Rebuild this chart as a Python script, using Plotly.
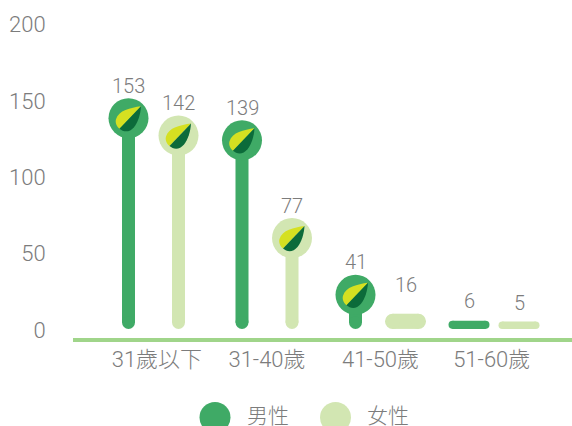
import plotly.graph_objects as go

categories = ["31歲以下", "31-40歲", "41-50歲", "51-60歲"]
male = [153, 139, 41, 6]
female = [142, 77, 16, 5]
series_names = ["男性", "女性"]
y_ticks = [0, 50, 100, 150, 200]
category_label_nudge = [0.03, 0.0, 0.0, -0.02]

MALE_C, FEMALE_C = "#3faa66", "#d2e6b2"
AXIS_C, TEXT_C = "#a0d58a", "#7c7c7c"
FONT = "Roboto, 'Noto Sans CJK TC', sans-serif"
WEIGHT = 300

W, H = 572, 426
L, R, T, B = 73, 0, 24, 88          # plot box: y from 24 to 338
PH = H - T - B
PX_PER_UNIT = 1.577                 # marks axis
TICK_PX_PER_UNIT = 1.527            # printed tick labels
PX_PER_CAT = 113.5
OFFSET = 25 / PX_PER_CAT
BASE = 10.6 / PX_PER_UNIT           # bars float above the axis line
STEM, HEAD = 13, 40
BAR_W = 41

fig = go.Figure()
shapes, annotations = [], []
LEAF_L = "M 12.5 12 C 2 10.5 -10 8 -12.5 -1 C -13.5 -4 -12 -8 -9 -10.5 Z"
LEAF_D = "M 12.5 12 C 12 4 9.5 -4 5.5 -9 C 1 -14.5 -5 -14 -9 -10.5 Z"


def marks(values, sign, color, name):
    for i, v in enumerate(values):
        cx = i + sign * OFFSET
        if v >= 20:
            head_y = v - HEAD / 2 / PX_PER_UNIT
            fig.add_trace(go.Scatter(
                x=[cx, cx], y=[BASE + STEM / 2 / PX_PER_UNIT, head_y], yaxis="y2",
                mode="lines+markers", line=dict(color=color, width=STEM),
                marker=dict(color=color, size=[STEM, HEAD], opacity=1, line=dict(width=0)),
                showlegend=False, name=name, hoverinfo="skip"))
            for path, col in ((LEAF_L, "#d5e021"), (LEAF_D, "#0c6b3a")):
                shapes.append(dict(type="path", path=path, xref="x", yref="y2",
                                   xsizemode="pixel", ysizemode="pixel",
                                   xanchor=cx, yanchor=head_y,
                                   fillcolor=col, line=dict(width=0)))
            shift = 12.5
        else:
            h = 4 + 0.7 * v
            dx = (BAR_W - h) / 2 / PX_PER_CAT
            yc = BASE + h / 2 / PX_PER_UNIT
            fig.add_trace(go.Scatter(
                x=[cx - dx, cx + dx], y=[yc, yc], yaxis="y2",
                mode="lines+markers", line=dict(color=color, width=h),
                marker=dict(color=color, size=h, opacity=1, line=dict(width=0)),
                showlegend=False, name=name, hoverinfo="skip"))
            shift = 29
        annotations.append(dict(x=cx, y=v, xref="x", yref="y2", text=str(v),
                                showarrow=False, yanchor="middle", yshift=shift,
                                font=dict(size=20, color=TEXT_C, family=FONT, weight=WEIGHT)))


marks(male, -1, MALE_C, series_names[0])
marks(female, 1, FEMALE_C, series_names[1])

# legend drawn at its reference size
for cx, tx, col, name in ((215, 268, MALE_C, series_names[0]),
                          (335.5, 388, FEMALE_C, series_names[1])):
    shapes.append(dict(type="circle", xref="paper", yref="paper",
                       x0=(cx - 15.5 - L) / (W - L - R), x1=(cx + 15.5 - L) / (W - L - R),
                       y0=(H - B - 433) / PH, y1=(H - B - 402) / PH,
                       fillcolor=col, line=dict(width=0)))
    annotations.append(dict(x=(tx - L) / (W - L - R), y=(H - B - 416) / PH,
                            xref="paper", yref="paper", text=name, showarrow=False,
                            yanchor="middle",
                            font=dict(size=21, color=TEXT_C, family=FONT, weight=WEIGHT)))

bottom_px = H - B
fig.update_layout(
    width=W, height=H, margin=dict(l=L, r=R, t=T, b=B, pad=0), autosize=False,
    paper_bgcolor="white", plot_bgcolor="white", showlegend=False,
    shapes=shapes, annotations=annotations,
    xaxis=dict(range=[(L - 153.5) / PX_PER_CAT, (572 - 153.5) / PX_PER_CAT],
               tickvals=[i + n for i, n in enumerate(category_label_nudge)],
               ticktext=categories, showgrid=False,
               zeroline=False, showline=True, linecolor=AXIS_C, linewidth=4,
               ticks="", ticklabelstandoff=-1,
               tickfont=dict(size=22, color=TEXT_C, family=FONT, weight=WEIGHT)),
    yaxis=dict(range=[(330 - bottom_px) / TICK_PX_PER_UNIT, (330 - T) / TICK_PX_PER_UNIT],
               tickvals=y_ticks,
               showgrid=False, zeroline=False, showline=False,
               ticks="outside", ticklen=22, tickcolor="rgba(0,0,0,0)",
               tickfont=dict(size=22, color=TEXT_C, family=FONT, weight=WEIGHT)),
    yaxis2=dict(range=[(339.5 - bottom_px) / PX_PER_UNIT, (339.5 - T) / PX_PER_UNIT],
                overlaying="y", visible=False, fixedrange=True),
)
# keeps the left axis drawn even though marks sit on the overlay
fig.add_trace(go.Scatter(x=[0], y=[0], yaxis="y", mode="markers",
                         marker=dict(opacity=0), showlegend=False, hoverinfo="skip"))
fig.write_html("out.html", config=dict(displayModeBar=False),
               post_script="document.body.style.margin='0';document.documentElement.style.overflow='hidden';")
